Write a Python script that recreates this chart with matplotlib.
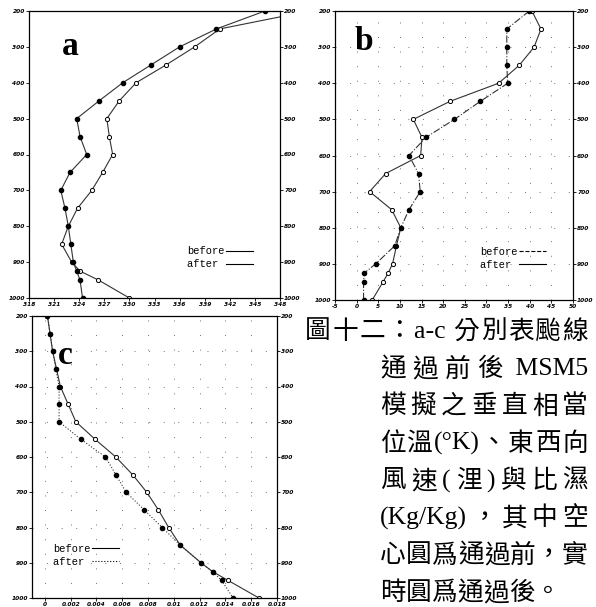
import re
import numpy as np
import matplotlib.pyplot as plt
from matplotlib.lines import Line2D

# 氣壓層 (hPa)
levels = [200, 250, 300, 350, 400, 450, 500, 550, 600, 650, 700, 750, 800, 850, 900, 925, 950, 1000]

# a: 相當位溫 (K)
theta_before = [351.5, 340.8, 337.8, 334.4, 330.8, 328.8, 327.3, 327.6, 328.0, 326.8, 325.5,
                323.8, 322.7, 321.9, 323.1, 324.1, 326.3, 330.0]
theta_after = [346.2, 340.4, 336.0, 332.6, 329.2, 326.4, 323.7, 324.1, 324.9, 322.9, 321.8,
               322.3, 322.7, 323.0, 323.3, 323.7, 324.1, 324.4]

# b: 東西向風速
u_before = [40.5, 42.6, 41.0, 37.6, 32.8, 21.6, 13.1, 15.1, 14.8, 6.7, 3.0,
            8.1, 10.2, 9.2, 8.3, 7.3, 6.1, 3.6]
u_after = [39.9, 34.7, 34.7, 34.7, 34.9, 28.6, 22.6, 16.0, 12.1, 14.3, 14.7,
           12.1, 10.2, 8.8, 4.4, 1.8, 1.6, 1.6]

# c: 比濕 (Kg/Kg)
q_before = [0.0002, 0.0004, 0.0006, 0.0009, 0.0012, 0.0018, 0.0024, 0.0039, 0.0055, 0.0068,
            0.0079, 0.0088, 0.0096, 0.0105, 0.0121, 0.0130, 0.0142, 0.0166]
q_after = [0.0002, 0.0004, 0.0006, 0.00085, 0.0011, 0.0011, 0.0011, 0.0028, 0.0047, 0.0055,
           0.0063, 0.0077, 0.0091, 0.0105, 0.0121, 0.0130, 0.0137, 0.0146]

a_ticks = np.arange(318, 349, 3)
b_ticks = np.arange(-5, 51, 5)
c_ticks = np.arange(0, 0.0181, 0.002)
p_ticks = np.arange(200, 1001, 100)

caption = ["圖十二：a-c 分別表颱線",
           "通過前後 MSM5",
           "模擬之垂直相當",
           "位溫(°K)、東西向",
           "風速(浬)與比濕",
           "(Kg/Kg)，其中空",
           "心圓爲通過前，實",
           "時圓爲通過後。"]

W, H = 596, 607
fig = plt.figure(figsize=(W / 100, H / 100), dpi=100)
fig.patch.set_facecolor('white')


def px_axes(l, r, t, b):
    return fig.add_axes([l / W, 1 - b / H, (r - l) / W, (b - t) / H])


def setup(ax, xlim, xticks, labels):
    ax.set_xlim(*xlim)
    ax.set_ylim(1000, 200)
    ax.set_xticks(xticks)
    ax.set_xticklabels(labels)
    ax.set_yticks(p_ticks)
    ax.tick_params(axis='both', direction='out', length=2, width=0.6, pad=1,
                   labelsize=4.2)
    ax.tick_params(axis='y', right=True, labelright=True)
    for lab in ax.get_xticklabels() + ax.yaxis.get_majorticklabels():
        lab.set_fontstyle('italic')
        lab.set_fontweight('bold')
    for s in ax.spines.values():
        s.set_linewidth(0.9)


def profiles(ax, before, after, ls_before, ls_after):
    ax.plot(before, levels, ls_before, color='0.2', lw=0.8, marker='o', ms=3.0,
            mfc='white', mec='black', mew=0.7, label='before')
    ax.plot(after, levels, ls_after, color='0.2', lw=0.8, marker='o', ms=3.0,
            mfc='black', mec='black', label='after')


def legend(ax, ls_before, ls_after, loc, anchor):
    handles = [Line2D([], [], color='black', lw=0.8, ls=ls_before),
               Line2D([], [], color='black', lw=0.8, ls=ls_after)]
    ax.legend(handles, ['before', 'after '], loc=loc, bbox_to_anchor=anchor,
              markerfirst=False, frameon=False, borderpad=0, borderaxespad=0,
              handlelength=2.6, handletextpad=0.1, labelspacing=0.3,
              prop={'family': 'Liberation Mono', 'size': 7.5})


def dotted_grid(ax):
    ax.grid(True, color='black', lw=0.7, ls=(0, (1, 14)), alpha=0.55)


# a
ax_a = px_axes(29, 280, 11, 298)
setup(ax_a, (318, 348), a_ticks, [str(v) for v in a_ticks])
profiles(ax_a, theta_before, theta_after, '-', '-')
legend(ax_a, '-', '-', 'lower right', (0.892, 0.1))
ax_a.text(0.163, 0.878, 'a', transform=ax_a.transAxes, ha='center', va='center',
          fontsize=24, fontweight='bold', family='Liberation Serif')

# b
ax_b = px_axes(335, 573, 11, 300)
setup(ax_b, (-5, 50), b_ticks, [str(v) for v in b_ticks])
dotted_grid(ax_b)
profiles(ax_b, u_before, u_after, '-', '-.')
legend(ax_b, '--', '-', 'lower right', (0.887, 0.105))
ax_b.text(0.122, 0.895, 'b', transform=ax_b.transAxes, ha='center', va='center',
          fontsize=24, fontweight='bold', family='Liberation Serif')

# c
ax_c = px_axes(32, 277, 316, 598)
setup(ax_c, (-0.001, 0.018), c_ticks, [f'{v:g}' for v in np.round(c_ticks, 3)])
dotted_grid(ax_c)
profiles(ax_c, q_before, q_after, '-', ':')
legend(ax_c, '-', ':', 'lower left', (0.086, 0.11))
ax_c.text(0.135, 0.86, 'c', transform=ax_c.transAxes, ha='center', va='center',
          fontsize=24, fontweight='bold', family='Liberation Serif')

# 說明文字 (左右對齊)
renderer = fig.canvas.get_renderer()
fam = ['Liberation Serif', 'Noto Sans CJK TC']
for i, line in enumerate(caption):
    y = 1 - (332 + 37.3 * i) / H
    x0 = 305 if i == 0 else 380
    x1 = 588
    tokens = re.findall(r'[ -~°]+|.', line)
    texts = [fig.text(0, y, t, fontsize=18.5, family=fam, va='center') for t in tokens]
    widths = [t.get_window_extent(renderer).width for t in texts]
    gap = 0 if i == len(caption) - 1 else (x1 - x0 - sum(widths)) / (len(tokens) - 1)
    x = x0
    for t, w in zip(texts, widths):
        t.set_x(x / W)
        x += w + gap

fig.savefig('out.png', dpi=100)
